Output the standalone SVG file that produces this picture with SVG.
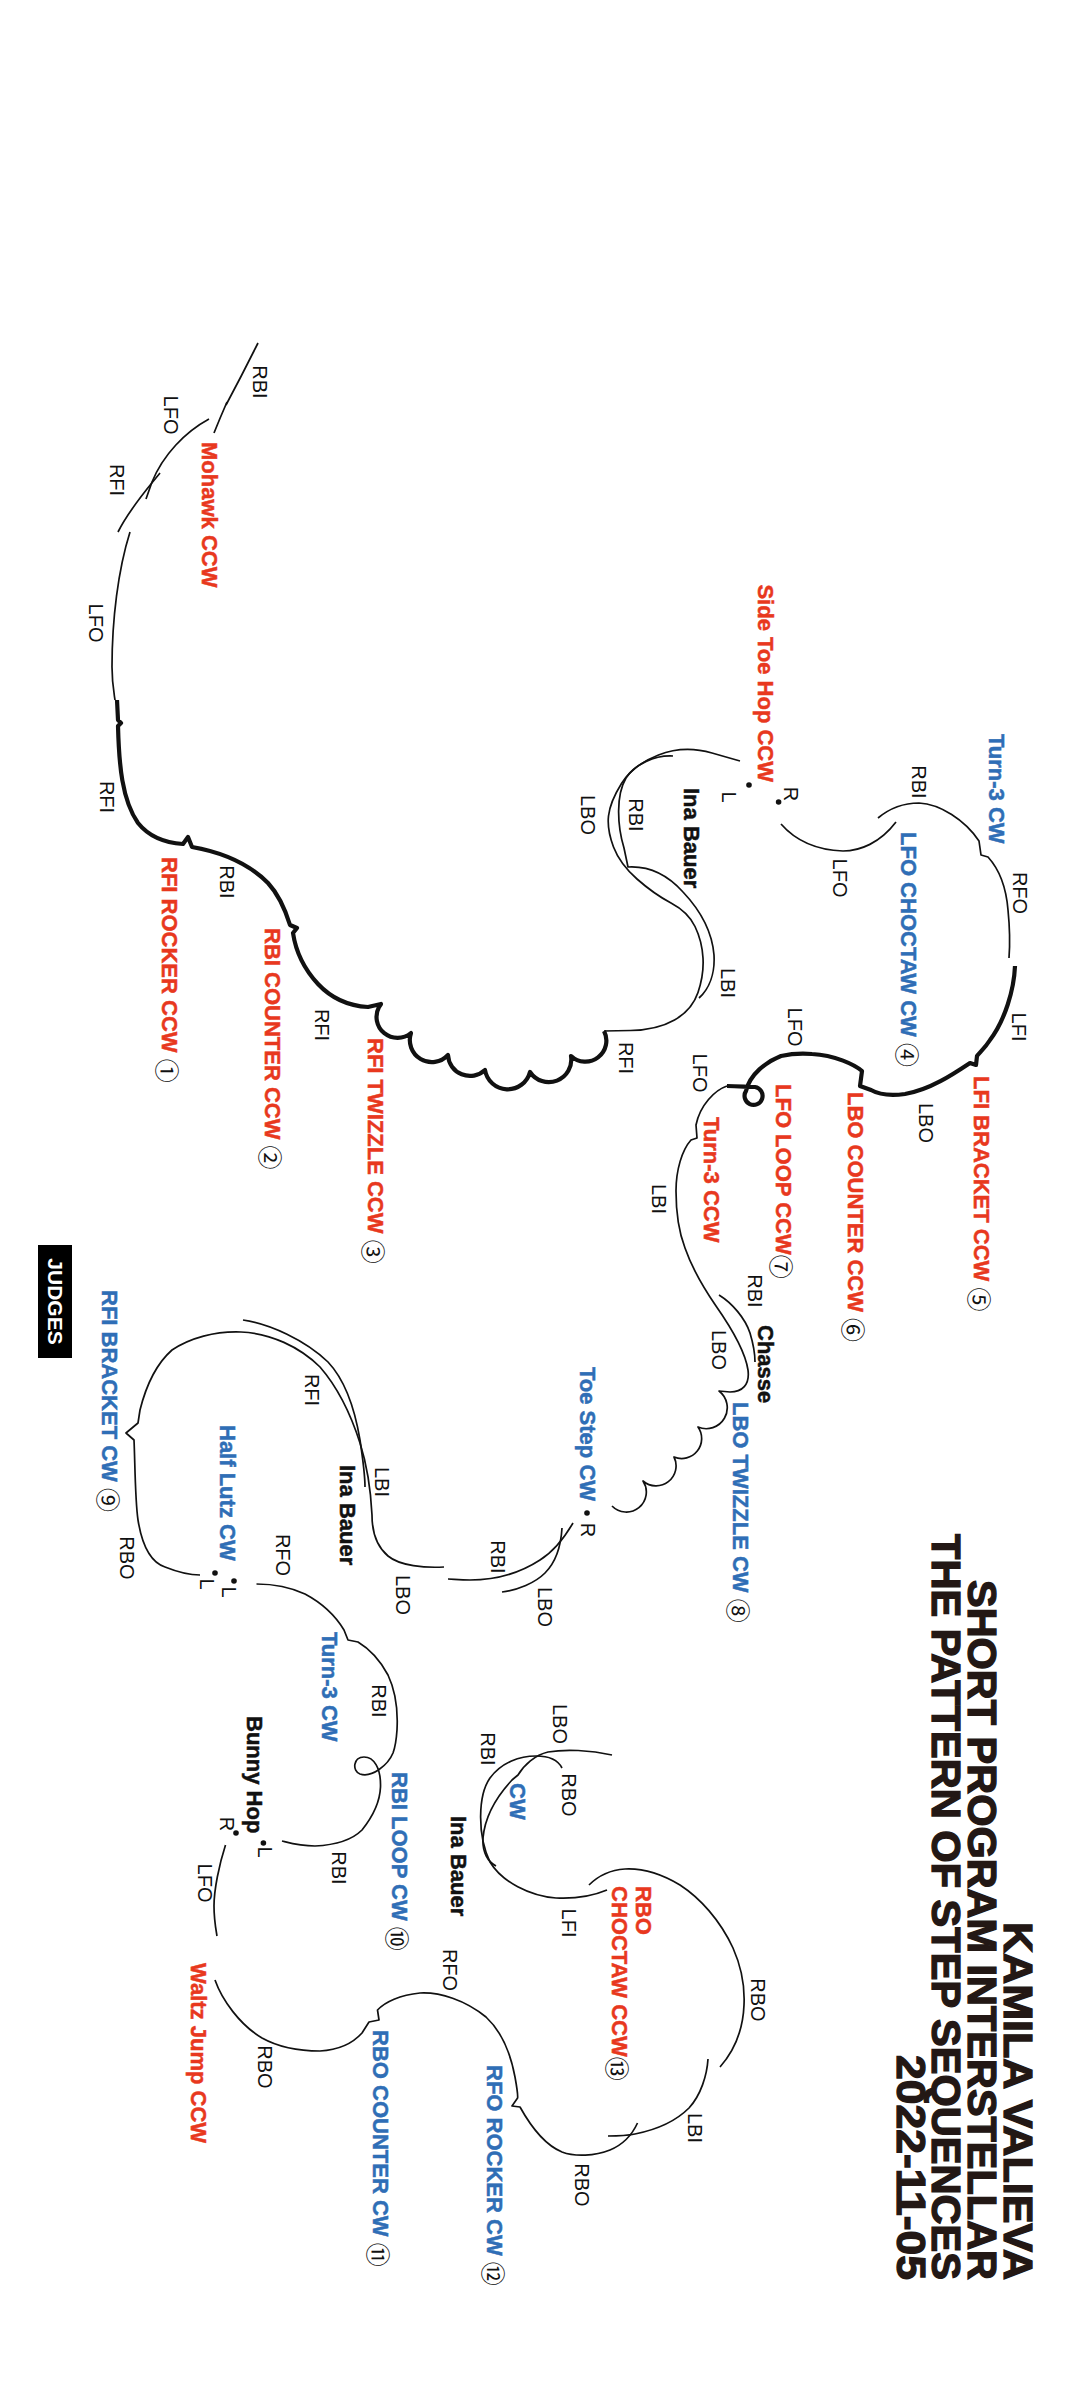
<svg xmlns="http://www.w3.org/2000/svg" width="1080" height="2400" viewBox="0 0 1080 2400">
<style>
text{font-family:"Liberation Sans",Arial,sans-serif;dominant-baseline:central}
.l{font-size:20px;fill:#111;text-anchor:middle}
.r{font-size:22px;font-weight:bold;fill:#E8381E;stroke:#E8381E;stroke-width:0.5}
.b{font-size:22px;font-weight:bold;fill:#2F6EB6;stroke:#2F6EB6;stroke-width:0.5}
.k{font-size:22px;font-weight:bold;fill:#111;stroke:#111;stroke-width:0.5}
.n{font-family:"Noto Sans CJK JP","Noto Sans CJK SC",sans-serif;font-weight:normal;font-size:24px;fill:#111;stroke:none}
.t{font-size:40.5px;font-weight:bold;fill:#231815;stroke:#231815;stroke-width:1.3}
.thin{fill:none;stroke:#111;stroke-width:1.7;stroke-linejoin:round}
.thick{fill:none;stroke:#111;stroke-width:4.2;stroke-linejoin:round}
.dot{fill:#111}
</style>
<rect width="1080" height="2400" fill="#fff"/>
<g id="connectors">
<path class="thin" d="M258,343 Q242,375 226,405"/>
<path class="thin" d="M227,402 Q220,418 214,433"/>
<path class="thin" d="M209,419 C185,432 163,455 152,482 L146,499"/>
<path class="thin" d="M160,473 C148,488 130,508 118,532"/>
<path class="thin" d="M130,532 C118,570 112,620 112,667 C112,683 114,693 115,700"/>
<path class="thick" d="M117,700 L118,720 L121,723 L118,726 C119,765 122,800 138,823 C150,838 168,843 183,844 L188,837 L192,847 C215,851 245,860 268,883 C280,896 286,912 290,925 L297,928 L293,933 C296,953 305,970 318,984 C333,1000 350,1006 368,1007 L381,1004 L379,1007 A21,21 0 0,0 411,1033 A22,22 0 0,0 448,1055 A22,22 0 0,0 485,1070 A23,23 0 0,0 530,1072 A22.5,22.5 0 0,0 571,1056 A21,21 0 0,0 604,1031"/>
<path class="thin" d="M604,1031 L630.5,1030.5 Q657,1030 674.5,1020 Q692,1010 698,992.5 Q704,975 703,958 Q702,941 695,926.5 Q688,912 671,903 Q654,894 637,879 Q620,864 613.5,847 Q607,830 608.5,816 Q610,802 621.5,783.5 Q633,765 658.5,755 Q684,745 712,753 L740,761"/>
<path class="thin" d="M673,756 C655,755 635,764 626,778 C616,795 617,825 624,848 L628,867 C645,866 665,872 683,892 C700,910 712,930 714,955 C715,972 710,988 699,998"/>
<path class="thin" d="M781,824 C795,840 815,850 843,851 C860,851 880,843 896,822"/>
<path class="thin" d="M878,818 C890,808 905,803 919,803 C940,804 965,820 979,841 L981,855 L988,857 C998,868 1006,885 1008,910 C1010,930 1010,945 1009,958"/>
<path class="thick" d="M1015,966 C1014,990 1005,1020 990,1040 C985,1048 980,1052 977,1056 L976,1065 L970,1063 C955,1073 930,1090 905,1094 C890,1096 878,1094 871,1090 L860,1086 L862,1071 C855,1065 835,1055 812,1054 C800,1053 790,1054 781,1056 C766,1062 750,1074 746,1091 A9,9 0 1,0 755,1087 C748,1087 738,1086 727,1086"/>
<path class="thin" d="M727,1086 C715,1090 700,1105 696,1125 L697,1138 L691,1140 C682,1150 676,1170 676,1191 C676,1215 680,1235 685,1248 C692,1268 705,1290 716,1306 C730,1326 745,1350 748,1370 C750,1385 742,1392 730,1392 L719,1391 A21,21 0 0,1 698,1427 A20,20 0 0,1 674,1457 A20,20 0 0,1 643,1481 A20,20 0 0,1 612,1506"/>
<path class="thin" d="M719,1295 C732,1303 745,1318 750,1333 C753,1343 755,1352 755,1362"/>
<path class="thin" d="M573,1523 C566,1535 556,1550 540,1560 C520,1573 495,1580 470,1580 C460,1580 452,1579 448,1579"/>
<path class="thin" d="M562,1528 C561,1545 556,1562 545,1573 C535,1583 518,1590 502,1592"/>
<path class="thin" d="M243,1320 C270,1324 305,1340 328,1362 C345,1380 355,1410 360,1440 C363,1460 365,1475 365,1487"/>
<path class="thin" d="M444,1567 C425,1568 400,1566 388,1556 C375,1545 372,1530 372,1515 C371,1495 367,1465 360,1443 C352,1418 340,1390 320,1367 C300,1347 270,1333 241,1332 C215,1331 190,1338 172,1350 C155,1365 145,1390 140,1410 L138,1423 L126,1433 L134,1440 C135,1460 135,1500 138,1520 C142,1545 150,1562 165,1567 C180,1573 190,1575 200,1575"/>
<path class="thin" d="M256.5,1584 C275,1584 292,1588 305,1594 C320,1602 335,1615 344,1630 L348,1640 L358,1642 C368,1648 380,1660 388,1675 C396,1692 398,1712 397,1730 C396,1745 393,1753 393,1753 C388,1765 372,1778 360,1774 C352,1771 353,1757 364,1757 C374,1757 381,1768 380.5,1787 C380,1800 374,1815 362,1830 C352,1840 335,1845 315,1846 C300,1846 290,1843 282,1841"/>
<path class="thin" d="M225.5,1845 C219,1865 214,1890 214,1906 C214,1920 216,1930 217,1936"/>
<path class="thin" d="M215,1980 C222,2000 240,2025 262,2038 C280,2048 300,2051 320,2051 C338,2050 353,2043 362,2033 L369,2022 L379,2020 L377.5,2010 C385,2002 400,1995 420,1993 C440,1992 465,2000 486,2017 C500,2030 510,2050 515,2077 C517,2088 518,2095 517.6,2098 L512,2106 L520,2107 C530,2125 545,2145 562,2152 C575,2157 595,2156 610,2150 C622,2145 632,2135 637.5,2123"/>
<path class="thin" d="M612,1755 C590,1750 565,1749 548,1752 C535,1755 524,1765 518,1775 L512,1780 C499,1794 485,1815 483,1838 C482,1852 488,1862 496,1866"/>
<path class="thin" d="M562,1768 C558,1760 548,1756 536,1756 C520,1756 502,1762 490,1778 C478,1795 477,1835 490,1862 C502,1882 530,1896 556,1898 C576,1899 595,1895 607,1890"/>
<path class="thin" d="M589,1885 C598,1876 610,1870 625,1869 C645,1868 665,1876 680,1885 C700,1898 720,1920 733,1948 C741,1966 745,1985 744,2005 C743,2030 735,2050 720,2067"/>
<path class="thin" d="M708,2059 C707,2075 701,2095 689,2108 C675,2122 655,2130 635,2134 C625,2136 615,2136 608,2136"/>
</g>
<g id="dots">
<circle class="dot" cx="749" cy="785" r="2.8"/>
<circle class="dot" cx="778.6" cy="802" r="2.8"/>
<circle class="dot" cx="587" cy="1513" r="2.8"/>
<circle class="dot" cx="234" cy="1581" r="2.8"/>
<circle class="dot" cx="215" cy="1573" r="2.8"/>
<circle class="dot" cx="236" cy="1833" r="2.8"/>
<circle class="dot" cx="263.4" cy="1843" r="2.8"/>
</g>
<g id="edge-labels">
<text class="l" transform="translate(260,382) rotate(90)">RBI</text>
<text class="l" transform="translate(170.5,415) rotate(90)">LFO</text>
<text class="l" transform="translate(117,480) rotate(90)">RFI</text>
<text class="l" transform="translate(96.4,623) rotate(90)">LFO</text>
<text class="l" transform="translate(107,797) rotate(90)">RFI</text>
<text class="l" transform="translate(227,882) rotate(90)">RBI</text>
<text class="l" transform="translate(322,1025) rotate(90)">RFI</text>
<text class="l" transform="translate(588,815) rotate(90)">LBO</text>
<text class="l" transform="translate(636,815) rotate(90)">RBI</text>
<text class="l" transform="translate(728,983) rotate(90)">LBI</text>
<text class="l" transform="translate(626,1058) rotate(90)">RFI</text>
<text class="l" transform="translate(840,878) rotate(90)">LFO</text>
<text class="l" transform="translate(919,782) rotate(90)">RBI</text>
<text class="l" transform="translate(1020,893) rotate(90)">RFO</text>
<text class="l" transform="translate(1019,1027) rotate(90)">LFI</text>
<text class="l" transform="translate(926,1123) rotate(90)">LBO</text>
<text class="l" transform="translate(795,1027) rotate(90)">LFO</text>
<text class="l" transform="translate(700,1073) rotate(90)">LFO</text>
<text class="l" transform="translate(659,1199) rotate(90)">LBI</text>
<text class="l" transform="translate(755,1291) rotate(90)">RBI</text>
<text class="l" transform="translate(719,1350) rotate(90)">LBO</text>
<text class="l" transform="translate(791,794) rotate(90)">R</text>
<text class="l" transform="translate(729,797) rotate(90)">L</text>
<text class="l" transform="translate(588,1530) rotate(90)">R</text>
<text class="l" transform="translate(498,1557) rotate(90)">RBI</text>
<text class="l" transform="translate(545,1607) rotate(90)">LBO</text>
<text class="l" transform="translate(403,1595) rotate(90)">LBO</text>
<text class="l" transform="translate(382,1482) rotate(90)">LBI</text>
<text class="l" transform="translate(311.6,1390) rotate(90)">RFI</text>
<text class="l" transform="translate(127.4,1558) rotate(90)">RBO</text>
<text class="l" transform="translate(283,1555) rotate(90)">RFO</text>
<text class="l" transform="translate(229,1592) rotate(90)">L</text>
<text class="l" transform="translate(207,1584) rotate(90)">L</text>
<text class="l" transform="translate(379,1701) rotate(90)">RBI</text>
<text class="l" transform="translate(339,1868) rotate(90)">RBI</text>
<text class="l" transform="translate(227,1824) rotate(90)">R</text>
<text class="l" transform="translate(265,1852) rotate(90)">L</text>
<text class="l" transform="translate(205,1883) rotate(90)">LFO</text>
<text class="l" transform="translate(265,2067) rotate(90)">RBO</text>
<text class="l" transform="translate(450,1970) rotate(90)">RFO</text>
<text class="l" transform="translate(560,1724) rotate(90)">LBO</text>
<text class="l" transform="translate(488,1749) rotate(90)">RBI</text>
<text class="l" transform="translate(569,1795) rotate(90)">RBO</text>
<text class="l" transform="translate(569,1923) rotate(90)">LFI</text>
<text class="l" transform="translate(758,2000) rotate(90)">RBO</text>
<text class="l" transform="translate(695,2128) rotate(90)">LBI</text>
<text class="l" transform="translate(582,2185) rotate(90)">RBO</text>
</g>
<g id="step-mohawk"><text class="r" transform="translate(209,442) rotate(90)">Mohawk CCW</text></g>
<g id="step-1"><text class="r" transform="translate(169,857) rotate(90)">RFI ROCKER CCW <tspan class="n">①</tspan></text></g>
<g id="step-2"><text class="r" transform="translate(272,928) rotate(90)">RBI COUNTER CCW <tspan class="n">②</tspan></text></g>
<g id="step-3"><text class="r" transform="translate(375,1038) rotate(90)">RFI TWIZZLE CCW <tspan class="n">③</tspan></text></g>
<g id="step-side-toe-hop"><text class="r" text-anchor="end" transform="translate(765.5,782) rotate(90)">Side Toe Hop CCW</text></g>
<g id="step-ina-bauer-1"><text class="k" transform="translate(691.5,788) rotate(90)">Ina Bauer</text></g>
<g id="step-turn3-cw-1"><text class="b" transform="translate(996,734) rotate(90)">Turn-3 CW</text></g>
<g id="step-4"><text class="b" transform="translate(908.5,832) rotate(90)">LFO CHOCTAW CW <tspan class="n">④</tspan></text></g>
<g id="step-5"><text class="r" transform="translate(981,1076) rotate(90)">LFI BRACKET CCW <tspan class="n">⑤</tspan></text></g>
<g id="step-6"><text class="r" transform="translate(855,1092) rotate(90)">LBO COUNTER CCW <tspan class="n">⑥</tspan></text></g>
<g id="step-7"><text class="r" transform="translate(783,1084) rotate(90)">LFO LOOP CCW<tspan class="n">⑦</tspan></text></g>
<g id="step-turn3-ccw"><text class="r" transform="translate(711,1117) rotate(90)">Turn-3 CCW</text></g>
<g id="step-chasse"><text class="k" transform="translate(765.5,1325) rotate(90)">Chasse</text></g>
<g id="step-8"><text class="b" transform="translate(740,1402) rotate(90)">LBO TWIZZLE CW <tspan class="n">⑧</tspan></text></g>
<g id="step-toe-step"><text class="b" transform="translate(587,1367) rotate(90)">Toe Step CW</text></g>
<g id="step-ina-bauer-2"><text class="k" transform="translate(347.8,1465) rotate(90)">Ina Bauer</text></g>
<g id="step-9"><text class="b" transform="translate(109.5,1290) rotate(90)">RFI BRACKET CW <tspan class="n">⑨</tspan></text></g>
<g id="step-half-lutz"><text class="b" transform="translate(227,1425) rotate(90)">Half Lutz CW</text></g>
<g id="step-turn3-cw-2"><text class="b" transform="translate(329,1632) rotate(90)">Turn-3 CW</text></g>
<g id="step-10"><text class="b" transform="translate(399.4,1772) rotate(90)">RBI LOOP CW <tspan class="n">⑩</tspan></text></g>
<g id="step-bunny-hop"><text class="k" transform="translate(254.8,1716) rotate(90)">Bunny Hop</text></g>
<g id="step-waltz-jump"><text class="r" transform="translate(198,1963) rotate(90)">Waltz Jump CCW</text></g>
<g id="step-11"><text class="b" transform="translate(380,2030) rotate(90)">RBO COUNTER CW <tspan class="n">⑪</tspan></text></g>
<g id="step-12"><text class="b" transform="translate(494.6,2065) rotate(90)">RFO ROCKER CW <tspan class="n">⑫</tspan></text></g>
<g id="step-cw"><text class="b" transform="translate(517,1783) rotate(90)">CW</text></g>
<g id="step-ina-bauer-3"><text class="k" transform="translate(458,1816) rotate(90)">Ina Bauer</text></g>
<g id="step-13">
<text class="r" transform="translate(643.3,1886) rotate(90)">RBO</text>
<text class="r" transform="translate(619,1886) rotate(90)">CHOCTAW CCW<tspan class="n">⑬</tspan></text>
</g>
<g id="judges">
<rect x="38" y="1245" width="34" height="113" fill="#000"/>
<text transform="translate(55,1301.5) rotate(90)" text-anchor="middle" style="font-size:21px;font-weight:bold;fill:#fff">JUDGES</text>
</g>
<g id="title">
<text class="t" transform="translate(1017.5,1922) rotate(90)" textLength="358" lengthAdjust="spacingAndGlyphs">KAMILA VALIEVA</text>
<text class="t" transform="translate(981.5,1580) rotate(90)" textLength="700" lengthAdjust="spacingAndGlyphs">SHORT PROGRAM INTERSTELLAR</text>
<text class="t" transform="translate(945.5,1534) rotate(90)" textLength="746" lengthAdjust="spacingAndGlyphs">THE PATTERN OF STEP SEQUENCES</text>
<text class="t" transform="translate(911,2055) rotate(90)" textLength="225" lengthAdjust="spacingAndGlyphs">2022-11-05</text>
</g>
</svg>
